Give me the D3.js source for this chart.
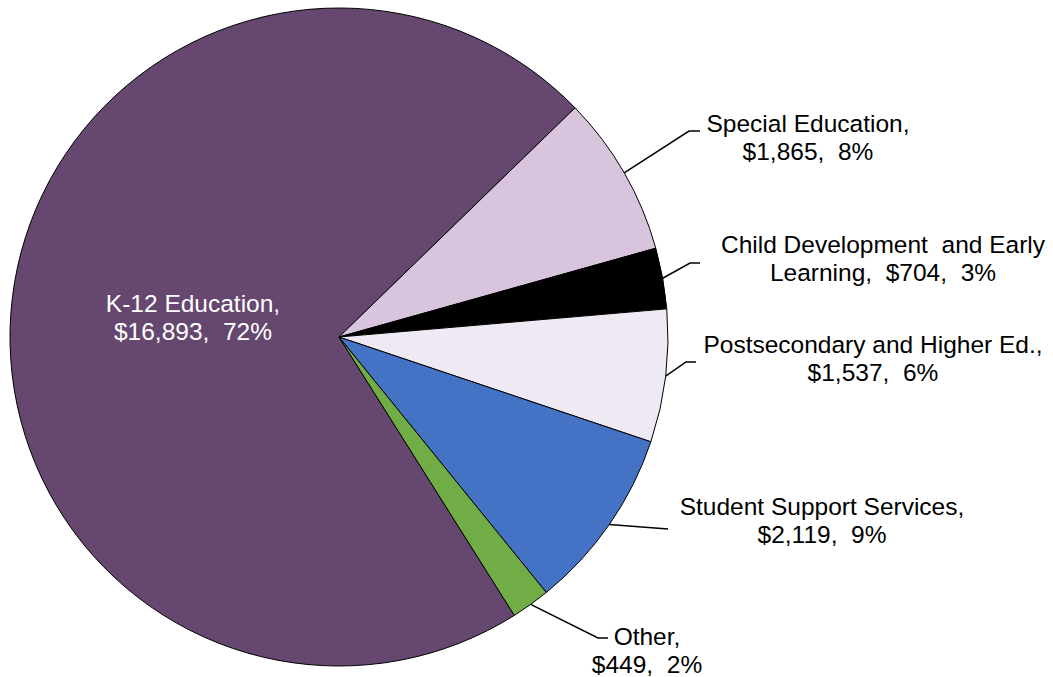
<!DOCTYPE html>
<html>
<head>
<meta charset="utf-8">
<script src="https://cdn.jsdelivr.net/npm/d3@7"></script>
<style>
  body { margin: 0; background: #fff; }
  text { font-family: "Liberation Sans", Arial, sans-serif; }
</style>
</head>
<body>
<div id="chart"></div>
<script>
// data
var categories = ["K-12 Education", "Special Education", "Child Development  and Early Learning",
                  "Postsecondary and Higher Ed.", "Student Support Services", "Other"];
var values = [16893, 1865, 704, 1537, 2119, 449];
var percents = ["72%", "8%", "3%", "6%", "9%", "2%"];
var colors = ["#65476F", "#D8C5DD", "#000000", "#EFE9F3", "#4472C4", "#70AD47"];

// label lines, as they wrap in the original
var labelLines = [
  ["K-12 Education,", "$16,893,  72%"],
  ["Special Education,", "$1,865,  8%"],
  ["Child Development  and Early", "Learning,  $704,  3%"],
  ["Postsecondary and Higher Ed.,", "$1,537,  6%"],
  ["Student Support Services,", "$2,119,  9%"],
  ["Other,", "$449,  2%"]
];

// layout
var width = 1053, height = 677;
var cx = 339, cy = 337, radius = 329;
var lineH = 27.5;
// label line centre x, first baseline, leader elbow and end (null for inside label)
var labelLayout = [
  {x: 193, y: 312, elbow: null},
  {x: 808, y: 132, elbow: [689, 131], end: [700, 131]},
  {x: 883, y: 253, elbow: [690, 263], end: [700, 263]},
  {x: 873, y: 353, elbow: [686, 362], end: [696, 362]},
  {x: 822, y: 515, elbow: [668, 529], end: [668, 529]},
  {x: 647, y: 645, elbow: [598, 638], end: [608, 638]}
];

var data = categories.map(function(c, i) { return {name: c, value: values[i], i: i}; });

var svg = d3.select("#chart")
  .append("svg")
    .attr("width", width)
    .attr("height", height);

var g = svg.append("g")
    .attr("transform", "translate(" + cx + "," + cy + ")");

var startDeg = 147.8;
var pie = d3.pie()
    .sort(null)
    .value(function(d) { return d.value; })
    .startAngle(startDeg * Math.PI / 180)
    .endAngle((startDeg + 360) * Math.PI / 180);

var arc = d3.arc()
    .innerRadius(0)
    .outerRadius(radius);

var arcs = pie(data);

g.selectAll("path.slice")
  .data(arcs)
  .enter()
  .append("path")
    .attr("class", "slice")
    .attr("d", arc)
    .attr("fill", function(d) { return colors[d.data.i]; })
    .attr("stroke", "#000")
    .attr("stroke-width", 1);

// leader lines from slice edge
arcs.forEach(function(d) {
  var lay = labelLayout[d.data.i];
  if (!lay.elbow) return;
  var a = (d.startAngle + d.endAngle) / 2;
  var sx = cx + radius * Math.sin(a), sy = cy - radius * Math.cos(a);
  svg.append("polyline")
    .attr("points", [[sx, sy], lay.elbow, lay.end].map(function(p) { return p.join(","); }).join(" "))
    .attr("fill", "none")
    .attr("stroke", "#000")
    .attr("stroke-width", 1.5);
});

// labels
data.forEach(function(d) {
  var lay = labelLayout[d.i];
  var t = svg.append("text")
    .attr("text-anchor", "middle")
    .attr("font-size", 24.5)
    .attr("fill", d.i === 0 ? "#fff" : "#000");
  labelLines[d.i].forEach(function(line, k) {
    t.append("tspan")
      .attr("x", lay.x)
      .attr("y", lay.y + k * lineH)
      .style("white-space", "pre")
      .text(line);
  });
});
</script>
</body>
</html>
